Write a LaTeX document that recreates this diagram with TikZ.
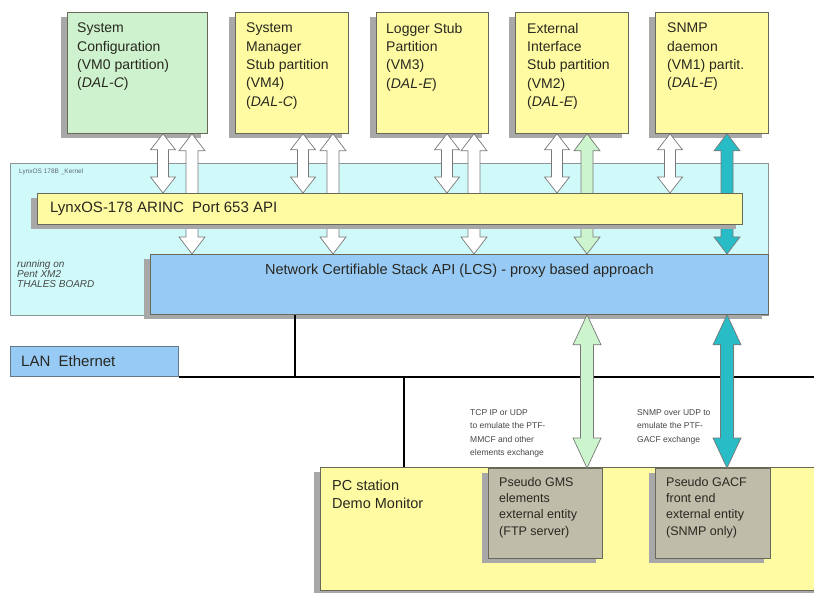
\documentclass[tikz,border=0pt]{standalone}
\usepackage{fontspec}
\setmainfont{Liberation Sans}
\usetikzlibrary{calc}

\definecolor{partgreen}{RGB}{205,242,205}
\definecolor{partyellow}{RGB}{255,251,162}
\definecolor{kernelcyan}{RGB}{208,250,250}
\definecolor{stackblue}{RGB}{152,202,246}
\definecolor{entitygray}{RGB}{192,188,170}
\definecolor{teal1}{RGB}{40,188,198}
\definecolor{lgreen}{RGB}{205,245,205}
\definecolor{shcol}{RGB}{168,168,168}
\definecolor{edgecol}{RGB}{105,105,90}
\definecolor{txtcol}{RGB}{40,40,32}
\definecolor{notecol}{RGB}{70,70,70}

% vertical fat double arrow: x, from anchor, to anchor, fill, shaft half width, head half width, head length
\newcommand\fatdbl[7]{%
  \filldraw[arrowline, fill=#4] let \p1=(#2), \p2=(#3) in
    (#1pt,\y1) -- ({#1pt+#6pt},{\y1-#7pt}) -- ({#1pt+#5pt},{\y1-#7pt})
    -- ({#1pt+#5pt},{\y2+#7pt}) -- ({#1pt+#6pt},{\y2+#7pt}) -- (#1pt,\y2)
    -- ({#1pt-#6pt},{\y2+#7pt}) -- ({#1pt-#5pt},{\y2+#7pt})
    -- ({#1pt-#5pt},{\y1-#7pt}) -- ({#1pt-#6pt},{\y1-#7pt}) -- cycle;}

\begin{document}
\begin{tikzpicture}[x=1pt,y=-1pt,
  box/.style={draw=edgecol, line width=0.8pt, inner sep=0pt, anchor=north west},
  sh/.style={preaction={draw=none, fill=shcol, transform canvas={shift={(-6pt,-5pt)}}}},
  txt/.style={font=\fontsize{14}{18.3}\selectfont, text=txtcol, align=left, inner sep=0pt, anchor=north west},
  bartxt/.style={font=\fontsize{15}{18}\selectfont, text=txtcol, inner sep=0pt},
  smalltxt/.style={font=\fontsize{12.5}{16.3}\selectfont, text=txtcol, align=left, inner sep=0pt, anchor=north west},
  note/.style={font=\fontsize{8.5}{13.5}\selectfont, text=notecol, align=left, inner sep=0pt, anchor=north west},
  arrowline/.style={draw={rgb,255:red,120;green,120;blue,120}, line width=0.7pt, line join=miter},
  netline/.style={line width=2.4pt, black}]
\useasboundingbox (0,0) rectangle (814,593);
\fill[white] (0,0) rectangle (814,593);

% kernel area
\node[box, draw={rgb,255:red,140;green,150;blue,150}, fill=kernelcyan, minimum width=758, minimum height=152] (kern) at (10,163) {};
\node[anchor=west, inner sep=0pt, font=\fontsize{6.5}{7}\selectfont, text={rgb,255:red,95;green,105;blue,120}] (kernlbl) at (19,172) {LynxOS 178B \_Kernel};
\node[anchor=north west, inner sep=0pt, align=left, font=\fontsize{10}{10}\selectfont\itshape, text=notecol] (board) at (17,260) {running on\\Pent XM2\\THALES BOARD};

% partitions
\node[box, sh, fill=partgreen, minimum width=140, minimum height=121] (b1) at (67,12) {};
\node[box, sh, fill=partyellow, minimum width=113, minimum height=121] (b2) at (235,12) {};
\node[box, sh, fill=partyellow, minimum width=112, minimum height=121] (b3) at (376,12) {};
\node[box, sh, fill=partyellow, minimum width=113, minimum height=121] (b4) at (515,12) {};
\node[box, sh, fill=partyellow, minimum width=113, minimum height=121] (b5) at (655,12) {};

\node[txt] (t1) at ($(b1.north west)+(10,11)$) {System\\Configuration\\(VM0 partition)\\(\textit{DAL-C})};
\node[txt] (t2) at ($(b2.north west)+(11,11)$) {System\\Manager\\Stub partition\\(VM4)\\(\textit{DAL-C})};
\node[txt] (t3) at ($(b3.north west)+(10,11)$) {Logger Stub\\Partition\\(VM3)\\(\textit{DAL-E})};
\node[txt] (t4) at ($(b4.north west)+(12,11)$) {External\\Interface\\Stub partition\\(VM2)\\(\textit{DAL-E})};
\node[txt] (t5) at ($(b5.north west)+(12,11)$) {SNMP\\daemon\\(VM1) partit.\\(\textit{DAL-E})};

% ARINC bar and stack, referenced by the arrows
\path (37,193) coordinate (arincnw) (150,254) coordinate (netnw);
\node[box, draw=none, minimum width=705, minimum height=31] (arincref) at (arincnw) {};
\node[box, draw=none, minimum width=618, minimum height=60] (netref) at (netnw) {};

% partition <-> ARINC / stack arrows
\fatdbl{163}{b1.south}{arincref.north}{white}{5.5}{12.5}{16}
\fatdbl{192}{b1.south}{netref.north}{white}{6}{13}{17}
\fatdbl{303}{b2.south}{arincref.north}{white}{5.5}{12.5}{16}
\fatdbl{333}{b2.south}{netref.north}{white}{6}{13}{17}
\fatdbl{447}{b3.south}{arincref.north}{white}{5.5}{12.5}{16}
\fatdbl{474}{b3.south}{netref.north}{white}{6}{13}{17}
\fatdbl{557}{b4.south}{arincref.north}{white}{5.5}{12.5}{16}
\fatdbl{587}{b4.south}{netref.north}{lgreen}{6}{13}{17}
\fatdbl{670}{b5.south}{arincref.north}{white}{5.5}{12.5}{16}
\fatdbl{727}{b5.south}{netref.north}{teal1}{6}{13}{17}

\node[box, sh, fill=partyellow, minimum width=705, minimum height=31] (arinc) at (arincnw) {};
\node[bartxt, anchor=west] (arinctxt) at ($(arinc.west)+(13,0)$) {LynxOS-178 ARINC\ \ Port 653 API};

\node[box, sh, fill=stackblue, minimum width=618, minimum height=60] (net) at (netnw) {};
\node[bartxt, font=\fontsize{14.5}{18}\selectfont] (nettxt) at ($(net.north)+(0,17)$) {Network Certifiable Stack API (LCS) - proxy based approach};

% LAN
\node[box, draw={rgb,255:red,100;green,120;blue,140}, fill=stackblue, minimum width=168, minimum height=30] (lan) at (10,346) {};
\node[bartxt, anchor=west] (lantxt) at ($(lan.west)+(11,0)$) {LAN\ \ Ethernet};

% PC station
\node[box, sh, fill=partyellow, minimum width=510, minimum height=123] (pc) at (320,467) {};
\node[txt, font=\fontsize{14.5}{18}\selectfont] (pctxt) at ($(pc.north west)+(12,13)$) {PC station\\Demo Monitor};
\node[box, sh, fill=entitygray, minimum width=114, minimum height=90] (gms) at (488,468) {};
\node[box, sh, fill=entitygray, minimum width=115, minimum height=90] (gacf) at (655,468) {};
\node[smalltxt] (gmstxt) at ($(gms.north west)+(11,9)$) {Pseudo GMS\\elements\\external entity\\(FTP server)};
\node[smalltxt] (gacftxt) at ($(gacf.north west)+(11,9)$) {Pseudo GACF\\front end\\external entity\\(SNMP only)};

% Ethernet wiring
\coordinate (ethR) at (816,0);
\coordinate (tapA) at (295,0);
\coordinate (tapB) at (404,0);
\draw[netline] (lan.south east) -- (lan.south east -| ethR);
\draw[netline] (tapA |- net.south) -- (tapA |- lan.south);
\draw[netline] (tapB |- lan.south) -- (tapB |- pc.north);

% stack <-> external entities
\fatdbl{587}{net.south}{gms.north}{lgreen}{6.5}{14}{30}
\fatdbl{727}{net.south}{gacf.north}{teal1}{6.5}{14}{30}

\node[note] (n1) at (470,409) {TCP IP or UDP\\to emulate the PTF-\\MMCF and other\\elements exchange};
\node[note] (n2) at (637,409) {SNMP over UDP to\\emulate the PTF-\\GACF exchange};
\end{tikzpicture}
\end{document}
